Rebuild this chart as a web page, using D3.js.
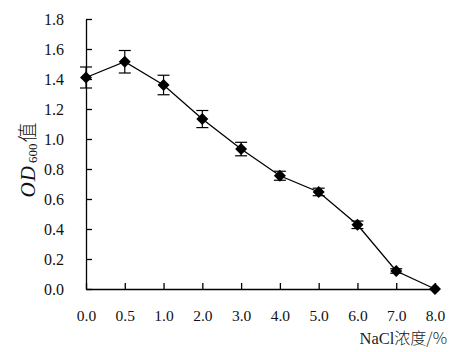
<!DOCTYPE html>
<html><head><meta charset="utf-8">
<script src="https://cdn.jsdelivr.net/npm/d3@7"></script>
<style>body{margin:0;background:#fff}svg{display:block}</style>
</head><body>
<svg id="c" width="468" height="352"></svg>
<script>
const categories = ["0.0","0.5","1.0","2.0","3.0","4.0","5.0","6.0","7.0","8.0"];
const odValues = [1.41,1.515,1.36,1.133,0.933,0.755,0.647,0.428,0.12,0.0];
const errors = [0.07,0.075,0.065,0.057,0.045,0.03,0.025,0.025,0.015,0.0];
const yTicks = [0,0.2,0.4,0.6,0.8,1.0,1.2,1.4,1.6,1.8];

const svg = d3.select("#c");
const font = "'Liberation Serif','Times New Roman',serif";
const x = d3.scalePoint().domain(categories).range([86,435]);
const y = d3.scaleLinear().domain([0,1.8]).range([289,19]);

// y axis
const ya = svg.append("g").attr("transform","translate(86,0)")
  .call(d3.axisLeft(y).tickValues(yTicks).tickFormat(d3.format(".1f")).tickSizeInner(-6).tickSizeOuter(0).tickPadding(22));
ya.select(".domain").attr("stroke","#000").attr("stroke-width",1.3);
ya.selectAll(".tick line").attr("stroke","#000").attr("stroke-width",1.3);
ya.selectAll("text").attr("font-family",font).attr("font-size",16).attr("fill","#111");

// x axis
const xa = svg.append("g").attr("transform","translate(0,289)")
  .call(d3.axisBottom(x).tickSizeInner(-6).tickSizeOuter(0).tickPadding(21));
xa.select(".domain").attr("stroke","#000").attr("stroke-width",1.3);
xa.selectAll(".tick line").attr("stroke","#000").attr("stroke-width",1.3);
xa.selectAll("text").attr("font-family",font).attr("font-size",15.5).attr("fill","#111");

const data = categories.map((c,i)=>({c, v:odValues[i], e:errors[i]}));

// error bars
const eb = svg.append("g").attr("stroke","#000").attr("stroke-width",1.2);
data.filter(d=>d.e>0).forEach(d=>{
  const cx = x(d.c);
  eb.append("line").attr("x1",cx).attr("x2",cx).attr("y1",y(d.v+d.e)).attr("y2",y(d.v-d.e));
  eb.append("line").attr("x1",cx-6).attr("x2",cx+6).attr("y1",y(d.v+d.e)).attr("y2",y(d.v+d.e));
  eb.append("line").attr("x1",cx-6).attr("x2",cx+6).attr("y1",y(d.v-d.e)).attr("y2",y(d.v-d.e));
});

// line
svg.append("path").datum(data)
  .attr("d",d3.line().x(d=>x(d.c)).y(d=>y(d.v)))
  .attr("fill","none").attr("stroke","#000").attr("stroke-width",1.3);

// markers
svg.append("g").selectAll("path").data(data).join("path")
  .attr("transform",d=>`translate(${x(d.c)},${y(d.v)})`)
  .attr("d","M0,-6L6,0L0,6L-6,0Z").attr("fill","#000");

// y title
const yt = svg.append("text").attr("transform","translate(35,160) rotate(-90)")
  .attr("text-anchor","middle").attr("font-family",font).attr("font-size",21).attr("fill","#111");
yt.append("tspan").attr("font-style","italic").attr("letter-spacing",1).text("OD");
yt.append("tspan").attr("font-size",13).attr("dy",2).attr("dx",2).text("600");
yt.append("tspan").attr("dy",-2).attr("dx",1).attr("font-family","'Noto Sans CJK SC',serif").attr("font-weight",300).attr("font-size",20).text("值");

// x title
svg.append("text").attr("x",447).attr("y",344).attr("text-anchor","end")
  .attr("font-family",font).attr("font-size",16.5).attr("fill","#222")
  .text("NaCl")
  .append("tspan").attr("font-family","'Noto Sans CJK SC',serif").attr("font-weight",300).attr("font-size",16).text("浓度/%");
</script>
</body></html>
